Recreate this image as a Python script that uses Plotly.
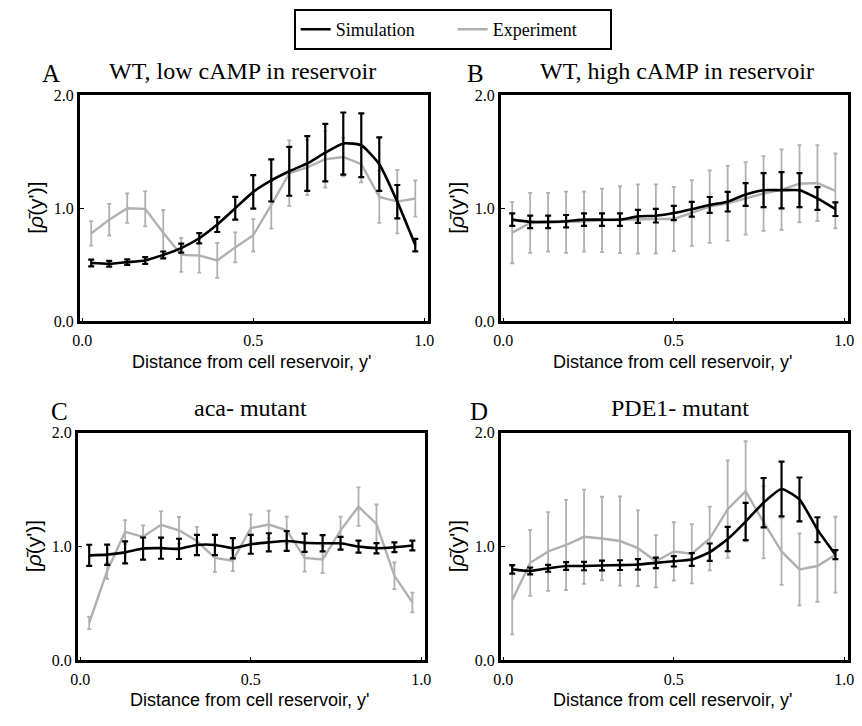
import plotly.graph_objects as go

# Bin centres along the channel (19 equal bins on [0, 1])
n_bins = 19
y_prime = [(i + 0.5) / n_bins for i in range(n_bins)]

panel_letters = ["A", "B", "C", "D"]
panel_titles = ["WT, low cAMP in reservoir", "WT, high cAMP in reservoir",
                "aca- mutant", "PDE1- mutant"]

# Simulation mean and error
sim_A = [0.516, 0.51, 0.524, 0.539, 0.588, 0.648, 0.735, 0.856, 1.0, 1.144,
         1.245, 1.326, 1.395, 1.49, 1.571, 1.556, 1.389, 1.058, 0.674]
sim_A_err = [0.03, 0.025, 0.025, 0.03, 0.03, 0.04, 0.045, 0.066, 0.10, 0.148,
             0.186, 0.216, 0.242, 0.254, 0.274, 0.281, 0.236, 0.147, 0.055]
sim_B = [0.899, 0.879, 0.879, 0.885, 0.899, 0.899, 0.899, 0.928, 0.934, 0.957,
         0.991, 1.029, 1.058, 1.121, 1.159, 1.159, 1.159, 1.086, 0.991]
sim_B_err = [0.055, 0.055, 0.055, 0.055, 0.055, 0.055, 0.055, 0.058, 0.06, 0.063,
             0.065, 0.07, 0.087, 0.1, 0.15, 0.16, 0.15, 0.1, 0.06]
sim_C = [0.923, 0.929, 0.949, 0.983, 0.986, 0.98, 1.014, 1.014, 0.986, 1.02,
         1.037, 1.049, 1.034, 1.029, 1.029, 1.0, 0.986, 0.994, 1.009]
sim_C_err = [0.093, 0.089, 0.096, 0.097, 0.093, 0.089, 0.089, 0.089, 0.089, 0.083,
             0.08, 0.086, 0.08, 0.071, 0.056, 0.053, 0.045, 0.043, 0.043]
sim_D = [0.8, 0.786, 0.809, 0.829, 0.829, 0.834, 0.837, 0.843, 0.857, 0.871,
         0.886, 0.951, 1.066, 1.22, 1.386, 1.506, 1.414, 1.149, 0.929]
sim_D_err = [0.037, 0.03, 0.03, 0.034, 0.037, 0.043, 0.043, 0.046, 0.046, 0.046,
             0.056, 0.076, 0.107, 0.164, 0.217, 0.241, 0.193, 0.109, 0.04]

# Experimental mean and error
exp_A = [0.778, 0.899, 1.0, 0.994, 0.784, 0.588, 0.582, 0.539, 0.654, 0.761,
         1.029, 1.308, 1.36, 1.432, 1.452, 1.389, 1.1, 1.058, 1.086]
exp_A_err = [0.108, 0.14, 0.13, 0.154, 0.2, 0.15, 0.15, 0.154, 0.133, 0.143,
             0.21, 0.29, 0.245, 0.25, 0.17, 0.16, 0.23, 0.28, 0.16]
exp_B = [0.784, 0.87, 0.876, 0.876, 0.882, 0.893, 0.899, 0.905, 0.905, 0.905,
         0.957, 1.014, 1.043, 1.086, 1.13, 1.164, 1.216, 1.222, 1.153]
exp_B_err = [0.27, 0.265, 0.26, 0.27, 0.265, 0.28, 0.295, 0.305, 0.305, 0.284,
             0.29, 0.32, 0.33, 0.32, 0.33, 0.355, 0.34, 0.335, 0.33]
exp_C = [0.329, 0.786, 1.129, 1.086, 1.191, 1.143, 1.049, 0.9, 0.877, 1.163,
         1.194, 1.143, 0.9, 0.886, 1.143, 1.351, 1.2, 0.743, 0.509]
exp_C_err = [0.054, 0.07, 0.104, 0.1, 0.119, 0.117, 0.124, 0.124, 0.093, 0.12,
             0.121, 0.12, 0.12, 0.12, 0.12, 0.169, 0.17, 0.117, 0.086]
exp_D = [0.529, 0.857, 0.957, 1.014, 1.086, 1.071, 1.049, 0.986, 0.871, 0.957,
         0.937, 1.071, 1.329, 1.486, 1.214, 0.957, 0.8, 0.829, 0.929]
exp_D_err = [0.3, 0.29, 0.346, 0.397, 0.414, 0.367, 0.393, 0.333, 0.229, 0.257,
             0.26, 0.28, 0.429, 0.44, 0.317, 0.294, 0.316, 0.314, 0.333]

sim_series = [(sim_A, sim_A_err), (sim_B, sim_B_err), (sim_C, sim_C_err), (sim_D, sim_D_err)]
exp_series = [(exp_A, exp_A_err), (exp_B, exp_B_err), (exp_C, exp_C_err), (exp_D, exp_D_err)]

W, H = 862, 726
SERIF = "Liberation Serif"
SANS = "Liberation Sans"
GRAY = "rgb(176,176,176)"

# Plot-box pixel extents: (left, right, top, bottom)
boxes = [(73, 427, 89, 321), (501, 854, 89, 321),
         (71, 424, 435, 668), (501, 854, 435, 668)]

fig = go.Figure()
for k in range(4):
    ax = "" if k == 0 else str(k + 1)
    ev, ee = exp_series[k]
    sv, se = sim_series[k]
    fig.add_trace(go.Scatter(
        x=y_prime, y=ev, mode="lines", name="Experiment",
        line=dict(color=GRAY, width=2.4),
        error_y=dict(type="data", array=ee, color=GRAY, thickness=1.8, width=2),
        xaxis="x" + ax, yaxis="y" + ax, showlegend=(k == 0), legendrank=2))
    fig.add_trace(go.Scatter(
        x=y_prime, y=sv, mode="lines", name="Simulation",
        line=dict(color="black", width=2.6, shape="spline", smoothing=0.5),
        error_y=dict(type="data", array=se, color="black", thickness=2.2, width=3),
        xaxis="x" + ax, yaxis="y" + ax, showlegend=(k == 0), legendrank=1))

layout = dict(
    width=W, height=H, margin=dict(l=0, r=0, t=0, b=0),
    plot_bgcolor="white", paper_bgcolor="white", showlegend=True,
    legend=dict(orientation="h", x=452 / W, xanchor="center", y=1 - 1 / H, yanchor="top",
                bordercolor="black", borderwidth=2, bgcolor="white",
                font=dict(family=SERIF, size=18, color="black"),
                itemwidth=30, entrywidth=112, tracegroupgap=0),
)
annotations = []
for k, (l, r, t, b) in enumerate(boxes):
    ax = "" if k == 0 else str(k + 1)
    common = dict(showline=True, linecolor="black", linewidth=2.6, mirror=True,
                  ticks="inside", ticklen=4, tickwidth=1.3, tickcolor="black",
                  showgrid=False, zeroline=False,
                  tickfont=dict(family=SERIF, size=16, color="black"))
    layout["xaxis" + ax] = dict(common, domain=[l / W, r / W], range=[-0.007, 1.011],
                                tickvals=[0, 0.5, 1], ticktext=["0.0", "0.5", "1.0"],
                                anchor="y" + ax, ticklabelstandoff=3)
    layout["yaxis" + ax] = dict(common, domain=[1 - b / H, 1 - t / H], range=[0, 2],
                                tickvals=[0, 1, 2], ticktext=["0.0", "1.0", "2.0"],
                                anchor="x" + ax, ticklabelstandoff=0)
    cx = (l + r) / 2
    # axis titles
    annotations.append(dict(text="Distance from cell reservoir, y'", x=(cx - 2) / W, y=1 - (b + 41) / H,
                            xref="paper", yref="paper", showarrow=False, xanchor="center", yanchor="middle",
                            font=dict(family=SANS, size=18, color="black")))
    annotations.append(dict(text="[<i>ρ̄</i>(y')]", x=(l - 45) / W, y=1 - ((t + b) / 2) / H,
                            xref="paper", yref="paper", showarrow=False, textangle=-90,
                            xanchor="center", yanchor="middle",
                            font=dict(family=SANS, size=21, color="black")))

title_pos = [(44, 238, 64), (475, 680, 64), (52, 247, 410), (479, 683, 410)]
for k, (lx, tx, ty) in enumerate(title_pos):
    annotations.append(dict(text=panel_letters[k], x=lx / W, y=1 - (ty + 3) / H, xref="paper", yref="paper",
                            showarrow=False, xanchor="center", yanchor="middle",
                            font=dict(family=SERIF, size=25, color="black")))
    annotations.append(dict(text=panel_titles[k], x=tx / W, y=1 - ty / H, xref="paper", yref="paper",
                            showarrow=False, xanchor="center", yanchor="middle",
                            font=dict(family=SERIF, size=24, color="black")))
layout["annotations"] = annotations
fig.update_layout(**layout)
fig.write_html("out.html")
